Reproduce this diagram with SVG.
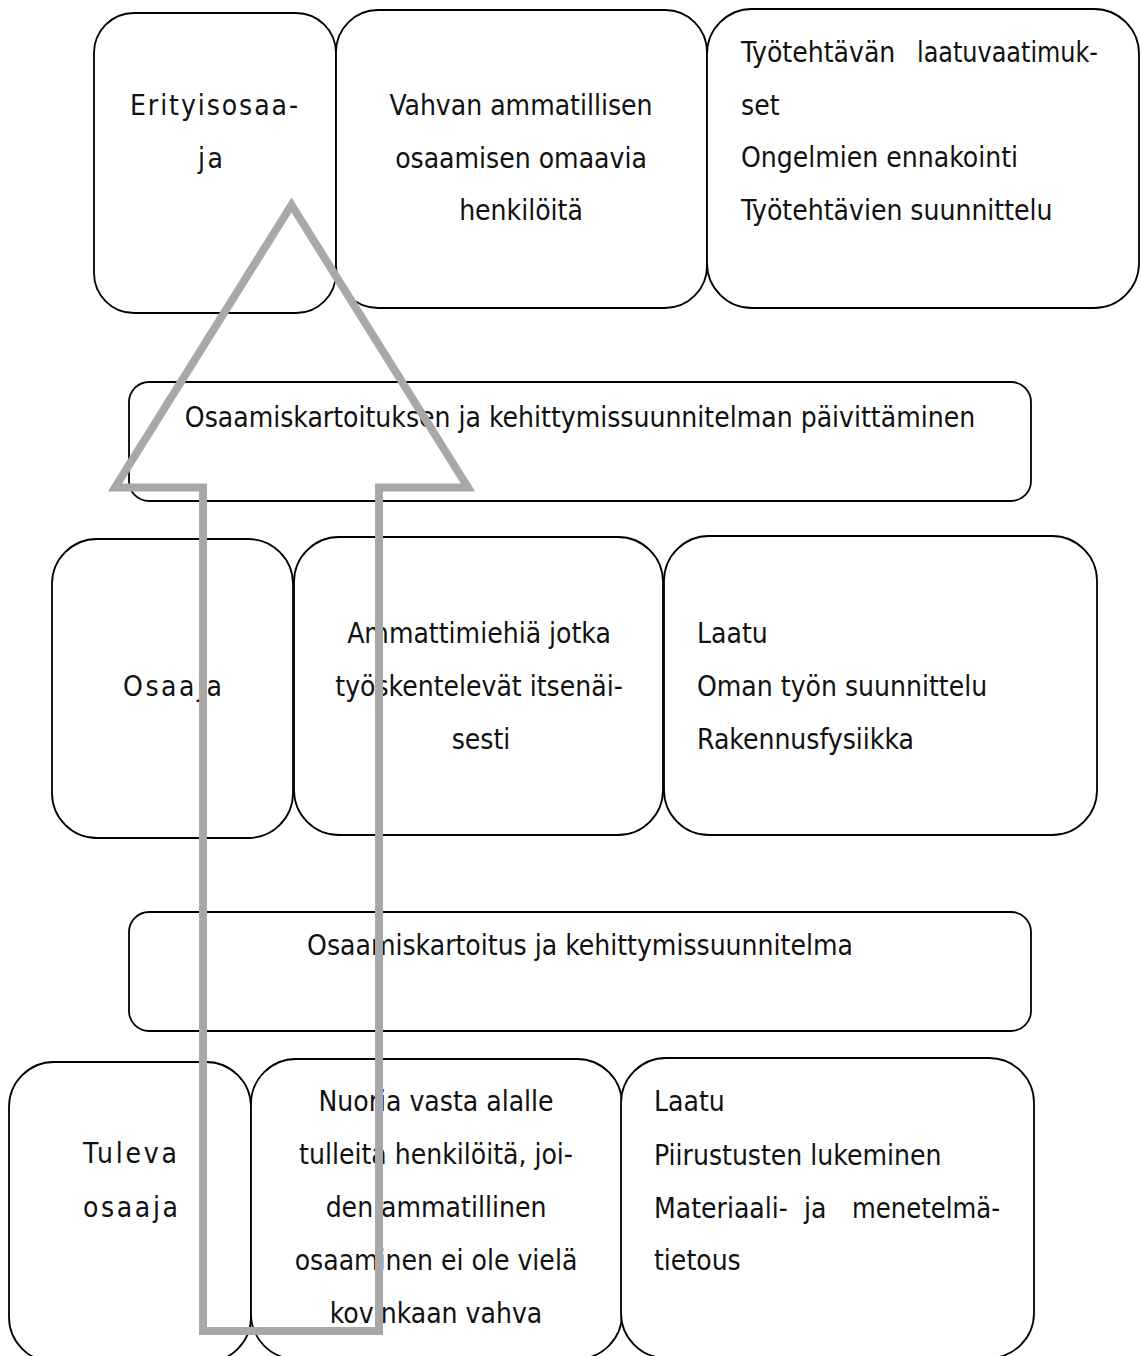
<svg xmlns="http://www.w3.org/2000/svg" width="1141" height="1356" viewBox="0 0 1141 1356">
  <style>
    .box { fill: #ffffff; stroke: #000000; stroke-width: 1.8; }
    .t { font-family: "DejaVu Sans Condensed", "DejaVu Sans", sans-serif; font-stretch: condensed; font-size: 28px; fill: #111111; }
    .c { text-anchor: middle; }
    .sp { letter-spacing: 2.4px; }
    .arrow { fill: none; stroke: #a8a8a8; stroke-width: 8; stroke-linejoin: miter; stroke-miterlimit: 10; }
  </style>
  <rect width="1141" height="1356" fill="#ffffff"/>

  <g id="node-erityisosaaja">
    <rect class="box" x="94" y="13" width="242" height="300" rx="40" ry="40"/>
    <text class="t" x="130" y="115" textLength="168" lengthAdjust="spacing">Erityisosaa-</text>
    <text class="t sp" x="198" y="168">ja</text>
  </g>
  <g id="node-vahvan">
    <rect class="box" x="336" y="10" width="371" height="298" rx="42" ry="42"/>
    <text class="t c" x="521" y="115">Vahvan ammatillisen</text>
    <text class="t c" x="521" y="168">osaamisen omaavia</text>
    <text class="t c" x="521" y="220">henkilöitä</text>
  </g>
  <g id="node-tyotehtavan">
    <rect class="box" x="707" y="9" width="432" height="299" rx="45" ry="45"/>
    <text class="t" y="62"><tspan x="741">Työtehtävän</tspan> <tspan x="917" textLength="181" lengthAdjust="spacingAndGlyphs">laatuvaatimuk-</tspan></text>
    <text class="t" x="741" y="115">set</text>
    <text class="t" x="741" y="167">Ongelmien ennakointi</text>
    <text class="t" x="741" y="220">Työtehtävien suunnittelu</text>
  </g>

  <g id="node-paivittaminen">
    <rect class="box" x="129" y="382" width="902" height="119" rx="20" ry="20"/>
    <text class="t c" x="580" y="427">Osaamiskartoituksen ja kehittymissuunnitelman päivittäminen</text>
  </g>

  <g id="node-osaaja">
    <rect class="box" x="52" y="539" width="241" height="299" rx="45" ry="45"/>
    <text class="t" x="123" y="696" textLength="99" lengthAdjust="spacing">Osaaja</text>
  </g>
  <g id="node-ammattimiehia">
    <rect class="box" x="294" y="537" width="369" height="298" rx="45" ry="45"/>
    <text class="t c" x="479" y="643">Ammattimiehiä jotka</text>
    <text class="t c" x="479" y="696">työskentelevät itsenäi-</text>
    <text class="t c" x="481" y="749">sesti</text>
  </g>
  <g id="node-laatu-osaaja">
    <rect class="box" x="664" y="536" width="433" height="299" rx="45" ry="45"/>
    <text class="t" x="697" y="643">Laatu</text>
    <text class="t" x="697" y="696">Oman työn suunnittelu</text>
    <text class="t" x="697" y="749">Rakennusfysiikka</text>
  </g>

  <g id="node-kartoitus">
    <rect class="box" x="129" y="912" width="902" height="119" rx="20" ry="20"/>
    <text class="t c" x="580" y="955">Osaamiskartoitus ja kehittymissuunnitelma</text>
  </g>

  <g id="node-tuleva">
    <rect class="box" x="9" y="1062" width="242" height="300" rx="45" ry="45"/>
    <text class="t" x="83" y="1163" textLength="94" lengthAdjust="spacing">Tuleva</text>
    <text class="t" x="83" y="1217" textLength="95" lengthAdjust="spacing">osaaja</text>
  </g>
  <g id="node-nuoria">
    <rect class="box" x="251" y="1059" width="371" height="300" rx="45" ry="45"/>
    <text class="t c" x="436" y="1111">Nuoria vasta alalle</text>
    <text class="t c" x="436" y="1164">tulleita henkilöitä, joi-</text>
    <text class="t c" x="436" y="1217">den ammatillinen</text>
    <text class="t c" x="436" y="1270">osaaminen ei ole vielä</text>
    <text class="t c" x="436" y="1323">kovinkaan vahva</text>
  </g>
  <g id="node-laatu-tuleva">
    <rect class="box" x="621" y="1058" width="413" height="300" rx="45" ry="45"/>
    <text class="t" x="654" y="1111">Laatu</text>
    <text class="t" x="654" y="1165">Piirustusten lukeminen</text>
    <text class="t" y="1218"><tspan x="654">Materiaali-</tspan> <tspan x="804">ja</tspan> <tspan x="852" textLength="148" lengthAdjust="spacingAndGlyphs">menetelmä-</tspan></text>
    <text class="t" x="654" y="1270">tietous</text>
  </g>

  <g id="connectors">
    <polygon class="arrow" points="291.5,205 115,487.5 203,487.5 203,1331 379,1331 379,487.5 468,487.5"/>
  </g>
</svg>
